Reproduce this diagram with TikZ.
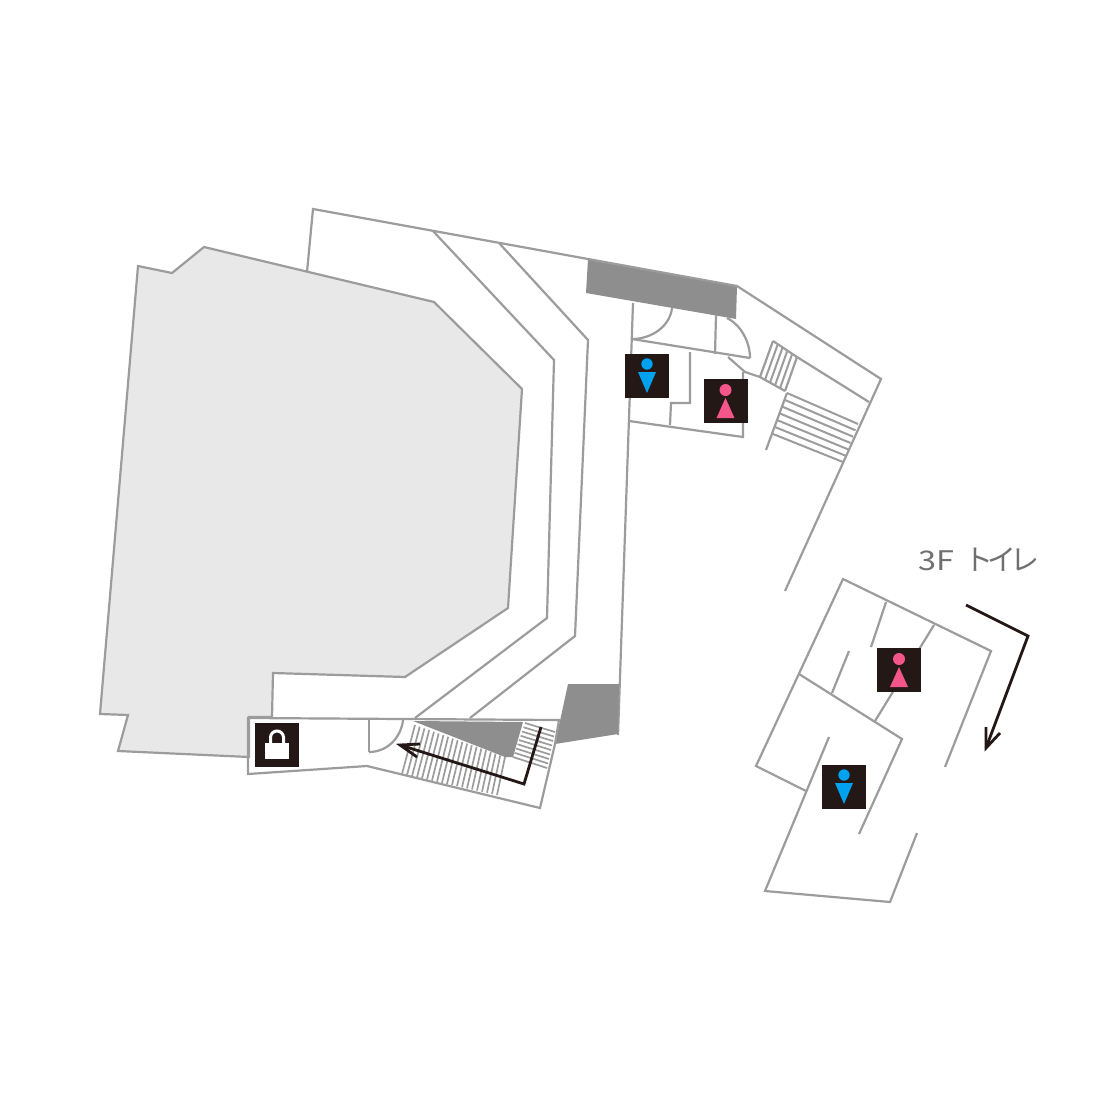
\documentclass[tikz,border=0pt]{standalone}
\usepackage{fontspec}
\newfontfamily\jpfont[LetterSpace=-20]{Noto Sans CJK JP}
\newfontfamily\jpwide[FakeStretch=1.2]{Noto Sans CJK JP}
\definecolor{wallc}{HTML}{9C9C9C}
\definecolor{hallc}{HTML}{E8E8E8}
\definecolor{blockc}{HTML}{8E8E8E}
\definecolor{inkc}{HTML}{231815}
\definecolor{manc}{HTML}{00A2F0}
\definecolor{womanc}{HTML}{F4558A}
\definecolor{labelc}{HTML}{707070}
\tikzset{
  wall/.style={draw=wallc,line width=2.2pt,line join=miter},
  tread/.style={draw=wallc,line width=2pt},
  finetread/.style={draw=wallc,line width=1.7pt},
  block/.style={fill=blockc,draw=none},
  route/.style={draw=inkc,line width=2.8pt,line join=miter},
  signbox/.style={fill=inkc,draw=none},
  pics/mansign/.style={code={
    \fill[signbox] (-22,-22) rectangle (22,22);
    \fill[manc] (0,-12) circle (5.7);
    \fill[manc] (-9,-4) -- (9,-4) -- (0,17) -- cycle;
  }},
  pics/womansign/.style={code={
    \fill[signbox] (-22,-22) rectangle (22,22);
    \fill[womanc] (0,-11) circle (6);
    \fill[womanc] (0,-3) -- (-9,17) -- (9,17) -- cycle;
  }}
}
\begin{document}
\begin{tikzpicture}[x=1pt,y=-1pt]
\useasboundingbox (0,0) rectangle (1100,1100);
\fill[white] (0,0) rectangle (1100,1100);
% hall
\draw[wall,fill=hallc] (100,714) -- (128,715) -- (118,751) -- (249,757) -- (249,717) -- (272,717) -- (273,673) -- (405,677) -- (508,608) -- (522,389) -- (434,302) -- (204,247) -- (172,273) -- (138,266) -- cycle;
% corridors
\draw[wall] (307,272) -- (313,209) -- (588,259);
\draw[wall] (433,231) -- (554,360) -- (547,618) -- (415,718);
\draw[wall] (499,243) -- (588,340) -- (575,636) -- (470,718);
\draw[wall] (633,303) -- (618,735);
% grey blocks
\fill[block] (588,259) -- (737,286) -- (736,319) -- (586,293) -- cycle;
\fill[block] (568,684) -- (619,684) -- (618,734) -- (555,744) -- cycle;
% upper right
\draw[wall] (588,259) -- (737,286) -- (881,379) -- (785,591);
\draw[wall] (797,357) -- (869,402);
% toilets north
\draw[wall] (632,339) -- (750,358);
\draw[wall] (716,315) -- (715,354);
\draw[wall] (672,308) .. controls (670,326) and (652,339) .. (632,339);
\draw[wall] (727,318) .. controls (741,325) and (750,342) .. (750,358);
\draw[wall] (728,357) -- (745,372) -- (760,377) -- (785,391);
\draw[wall] (690,352) -- (690,403) -- (671,403) -- (670,425);
\draw[wall] (629,421) -- (743,437) -- (743,372);
% small stairs NE
\draw[wall] (773,341) -- (797,357) -- (785,391);
\draw[wall] (773,341) -- (760,377);
\foreach \t in {0.2,0.4,0.6,0.8}
  \draw[tread] ({773+24*\t},{341+16*\t}) -- ({760+25*\t},{377+14*\t});
% long stairs NE
\draw[wall] (787,393) -- (766,450);
\foreach \t in {0,1,...,6}
  \draw[tread] ({787-14*\t/6},{393+41*\t/6}) -- ({858-15*\t/6},{424+38*\t/6});
% lower stair room
\draw[wall] (248,718) -- (559,720) -- (555,744) -- (540,808) -- (367,766) -- (248,774) -- cycle;
\draw[wall] (369,720) -- (369,752);
\draw[wall] (403,720) .. controls (401,738) and (387,752) .. (369,752);
\fill[block] (413,721) -- (523,722) -- (513,757) -- (505,757) -- cycle;
\foreach \t in {0,1,...,19}
  \draw[finetread] ({415+90*\t/19},{725+32*\t/19}) -- ({402+95*\t/19},{774+21*\t/19});
\foreach \t in {0,1,...,8}
  \draw[finetread] ({525-12*\t/8},{723+34*\t/8}) -- ({555-8*\t/8},{732+36*\t/8});
% south-east toilets
\draw[wall] (806,791) -- (756,766) -- (843,579) -- (991,651) -- (945,767);
\draw[wall] (799,674) -- (902,739) -- (859,834);
\draw[wall] (829,737) -- (765,891) -- (890,902) -- (917,833);
\draw[wall] (886,602) -- (871,647);
\draw[wall] (934,625) -- (875,721);
\draw[wall] (849,651) -- (832,693);
% signs
\pic at (647,376) {mansign};
\pic at (725.5,401) {womansign};
\pic at (899,670) {womansign};
\pic at (844,787) {mansign};
% lock
\fill[signbox] (255,723) rectangle (299,767);
\draw[white,line width=3pt] (270.5,745) -- (270.5,737.5) arc[start angle=180,end angle=360,radius=6.5] -- (283.5,745);
\fill[white] (265,743) rectangle (289,759);
% routes
\draw[route] (541,727) -- (524,784) -- (400,745);
\draw[route] (420,744) -- (400,745) -- (417,757);
\draw[route] (966,605) -- (1028,636) -- (986,748);
\draw[route] (986,727) -- (986,748) -- (1000,733);
% label
\node[inner sep=0pt,anchor=west,text=labelc] (label3f) at (918,559.5) {{\jpwide\fontsize{27}{27}\selectfont 3F}\hspace{10pt}{\jpfont\fontsize{29}{29}\selectfont トイレ}};
\end{tikzpicture}
\end{document}
